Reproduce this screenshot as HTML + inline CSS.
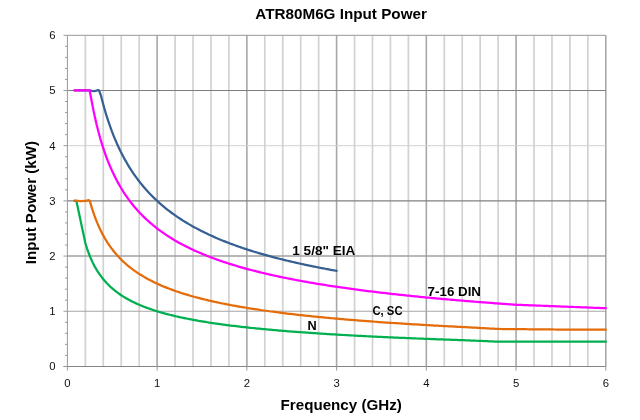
<!DOCTYPE html>
<html><head><meta charset="utf-8"><title>ATR80M6G Input Power</title>
<style>html,body{margin:0;padding:0;background:#fff}svg{display:block}</style>
</head><body>
<svg width="640" height="420" viewBox="0 0 640 420">
<rect width="640" height="420" fill="#ffffff"/>
<path d="M85.35 35.30V366.45M103.29 35.30V366.45M121.24 35.30V366.45M139.19 35.30V366.45M175.08 35.30V366.45M193.03 35.30V366.45M210.97 35.30V366.45M228.92 35.30V366.45M264.81 35.30V366.45M282.76 35.30V366.45M300.71 35.30V366.45M318.65 35.30V366.45M354.55 35.30V366.45M372.49 35.30V366.45M390.44 35.30V366.45M408.39 35.30V366.45M444.28 35.30V366.45M462.23 35.30V366.45M480.17 35.30V366.45M498.12 35.30V366.45M534.01 35.30V366.45M551.96 35.30V366.45M569.91 35.30V366.45M587.85 35.30V366.45" stroke="#d2d2d2" stroke-width="1.7" fill="none"/>
<path d="M157.13 35.30V366.45M246.87 35.30V366.45M336.60 35.30V366.45M426.33 35.30V366.45M516.07 35.30V366.45M605.80 35.30V366.45" stroke="#a8a8a8" stroke-width="1.6" fill="none"/>
<path d="M67.40 311.26H605.80" stroke="#a6a6a6" stroke-width="1.1" fill="none"/>
<path d="M67.40 256.07H605.80" stroke="#a0a0a0" stroke-width="1.4" fill="none"/>
<path d="M67.40 200.88H605.80" stroke="#808080" stroke-width="1.3" fill="none"/>
<path d="M67.40 145.68H605.80" stroke="#d2d2d2" stroke-width="1.0" fill="none"/>
<path d="M67.40 90.49H605.80" stroke="#7e7e7e" stroke-width="1.1" fill="none"/>
<path d="M67.40 35.30H605.80" stroke="#989898" stroke-width="1.0" fill="none"/>
<path d="M63.50 366.45H605.80" stroke="#858585" stroke-width="1.1" fill="none"/>
<path d="M67.40 35.30V366.45M63.50 366.45H67.40M65.00 355.41H67.40M65.00 344.37H67.40M65.00 333.33H67.40M65.00 322.30H67.40M63.50 311.26H67.40M65.00 300.22H67.40M65.00 289.18H67.40M65.00 278.14H67.40M65.00 267.11H67.40M63.50 256.07H67.40M65.00 245.03H67.40M65.00 233.99H67.40M65.00 222.95H67.40M65.00 211.91H67.40M63.50 200.88H67.40M65.00 189.84H67.40M65.00 178.80H67.40M65.00 167.76H67.40M65.00 156.72H67.40M63.50 145.68H67.40M65.00 134.65H67.40M65.00 123.61H67.40M65.00 112.57H67.40M65.00 101.53H67.40M63.50 90.49H67.40M65.00 79.45H67.40M65.00 68.41H67.40M65.00 57.38H67.40M65.00 46.34H67.40M63.50 35.30H67.40M67.40 366.45V370.55M157.13 366.45V370.55M246.87 366.45V370.55M336.60 366.45V370.55M426.33 366.45V370.55M516.07 366.45V370.55M605.80 366.45V370.55" stroke="#9a9a9a" stroke-width="1.0" fill="none"/>
<path d="M74.58 90.49 L89.83 90.49 L92.08 90.93 L94.32 91.15 L96.56 90.60 L98.09 90.05 L99.08 90.49 L100.87 95.34 L102.67 102.33 L104.46 108.81 L106.25 114.83 L108.05 120.44 L109.84 125.70 L111.64 130.64 L113.43 135.28 L115.23 139.66 L117.02 143.80 L118.82 147.72 L120.61 151.44 L122.41 154.97 L124.20 158.34 L126.00 161.55 L127.79 164.62 L129.59 167.55 L131.38 170.36 L133.17 173.06 L134.97 175.64 L136.76 178.13 L138.56 180.52 L140.35 182.82 L142.15 185.04 L143.94 187.17 L145.74 189.24 L147.53 191.24 L149.33 193.17 L151.12 195.03 L152.92 196.84 L154.71 198.59 L156.51 200.29 L158.30 201.94 L160.09 203.54 L161.89 205.10 L163.68 206.61 L165.48 208.08 L167.27 209.51 L169.07 210.90 L170.86 212.25 L172.66 213.57 L174.45 214.86 L176.25 216.11 L178.04 217.34 L179.84 218.53 L181.63 219.70 L183.43 220.84 L185.22 221.95 L187.01 223.04 L188.81 224.10 L190.60 225.14 L192.40 226.16 L194.19 227.16 L195.99 228.13 L197.78 229.09 L199.58 230.03 L201.37 230.94 L203.17 231.84 L204.96 232.72 L206.76 233.59 L208.55 234.43 L210.35 235.26 L212.14 236.08 L213.93 236.88 L215.73 237.67 L217.52 238.44 L219.32 239.20 L221.11 239.94 L222.91 240.67 L224.70 241.39 L226.50 242.10 L228.29 242.80 L230.09 243.48 L231.88 244.15 L233.68 244.82 L235.47 245.47 L237.27 246.11 L239.06 246.74 L240.85 247.36 L242.65 247.97 L244.44 248.57 L246.24 249.17 L248.03 249.75 L249.83 250.32 L251.62 250.89 L253.42 251.45 L255.21 252.00 L257.01 252.54 L258.80 253.08 L260.60 253.61 L262.39 254.13 L264.19 254.64 L265.98 255.15 L267.77 255.65 L269.57 256.14 L271.36 256.63 L273.16 257.11 L274.95 257.58 L276.75 258.05 L278.54 258.51 L280.34 258.97 L282.13 259.42 L283.93 259.86 L285.72 260.30 L287.52 260.73 L289.31 261.16 L291.11 261.58 L292.90 262.00 L294.69 262.42 L296.49 262.82 L298.28 263.23 L300.08 263.63 L301.87 264.02 L303.67 264.41 L305.46 264.80 L307.26 265.18 L309.05 265.55 L310.85 265.93 L312.64 266.29 L314.44 266.66 L316.23 267.02 L318.03 267.38 L319.82 267.73 L321.61 268.08 L323.41 268.42 L325.20 268.77 L327.00 269.10 L328.79 269.44 L330.59 269.77 L332.38 270.10 L334.18 270.42 L335.97 270.74 L336.60 270.86" stroke="#376092" stroke-width="2.25" fill="none" stroke-linejoin="round" stroke-linecap="round"/>
<path d="M74.58 90.49 L89.65 90.49 L91.45 99.92 L93.24 109.34 L95.04 117.83 L96.83 125.53 L98.63 132.55 L100.42 139.00 L102.22 144.94 L104.01 150.44 L105.81 155.54 L107.60 160.30 L109.40 164.76 L111.19 168.93 L112.98 172.86 L114.78 176.56 L116.57 180.06 L118.37 183.37 L120.16 186.51 L121.96 189.50 L123.75 192.34 L125.55 195.04 L127.34 197.63 L129.14 200.10 L130.93 202.47 L132.73 204.74 L134.52 206.91 L136.32 209.00 L138.11 211.01 L139.90 212.95 L141.70 214.82 L143.49 216.61 L145.29 218.35 L147.08 220.03 L148.88 221.65 L150.67 223.22 L152.47 224.74 L154.26 226.21 L156.06 227.64 L157.85 229.02 L159.65 230.36 L161.44 231.67 L163.24 232.94 L165.03 234.17 L166.82 235.37 L168.62 236.54 L170.41 237.67 L172.21 238.78 L174.00 239.86 L175.80 240.91 L177.59 241.94 L179.39 242.94 L181.18 243.92 L182.98 244.87 L184.77 245.80 L186.57 246.72 L188.36 247.61 L190.16 248.48 L191.95 249.33 L193.74 250.17 L195.54 250.99 L197.33 251.79 L199.13 252.57 L200.92 253.34 L202.72 254.09 L204.51 254.83 L206.31 255.55 L208.10 256.26 L209.90 256.96 L211.69 257.64 L213.49 258.31 L215.28 258.97 L217.08 259.61 L218.87 260.25 L220.66 260.87 L222.46 261.49 L224.25 262.09 L226.05 262.68 L227.84 263.26 L229.64 263.83 L231.43 264.40 L233.23 264.95 L235.02 265.50 L236.82 266.03 L238.61 266.56 L240.41 267.08 L242.20 267.59 L244.00 268.09 L245.79 268.59 L247.58 269.08 L249.38 269.56 L251.17 270.03 L252.97 270.50 L254.76 270.96 L256.56 271.42 L258.35 271.86 L260.15 272.31 L261.94 272.74 L263.74 273.17 L265.53 273.59 L267.33 274.01 L269.12 274.42 L270.92 274.83 L272.71 275.23 L274.50 275.63 L276.30 276.02 L278.09 276.40 L279.89 276.79 L281.68 277.16 L283.48 277.53 L285.27 277.90 L287.07 278.26 L288.86 278.62 L290.66 278.97 L292.45 279.32 L294.25 279.67 L296.04 280.01 L297.84 280.35 L299.63 280.68 L301.42 281.01 L303.22 281.34 L305.01 281.66 L306.81 281.98 L308.60 282.29 L310.40 282.60 L312.19 282.91 L313.99 283.22 L315.78 283.52 L317.58 283.81 L319.37 284.11 L321.17 284.40 L322.96 284.69 L324.76 284.98 L326.55 285.26 L328.34 285.54 L330.14 285.81 L331.93 286.09 L333.73 286.36 L335.52 286.63 L337.32 286.89 L339.11 287.16 L340.91 287.42 L342.70 287.68 L344.50 287.93 L346.29 288.18 L348.09 288.43 L349.88 288.68 L351.68 288.93 L353.47 289.17 L355.26 289.41 L357.06 289.65 L358.85 289.89 L360.65 290.12 L362.44 290.36 L364.24 290.59 L366.03 290.82 L367.83 291.04 L369.62 291.27 L371.42 291.49 L373.21 291.71 L375.01 291.93 L376.80 292.14 L378.60 292.36 L380.39 292.57 L382.18 292.78 L383.98 292.99 L385.77 293.20 L387.57 293.40 L389.36 293.61 L391.16 293.81 L392.95 294.01 L394.75 294.21 L396.54 294.41 L398.34 294.60 L400.13 294.80 L401.93 294.99 L403.72 295.18 L405.52 295.37 L407.31 295.56 L409.10 295.74 L410.90 295.93 L412.69 296.11 L414.49 296.29 L416.28 296.47 L418.08 296.65 L419.87 296.83 L421.67 297.01 L423.46 297.18 L425.26 297.36 L427.05 297.53 L428.85 297.70 L430.64 297.87 L432.44 298.04 L434.23 298.21 L436.02 298.37 L437.82 298.54 L439.61 298.70 L441.41 298.87 L443.20 299.03 L445.00 299.19 L446.79 299.35 L448.59 299.50 L450.38 299.66 L452.18 299.82 L453.97 299.97 L455.77 300.13 L457.56 300.28 L459.36 300.43 L461.15 300.58 L462.94 300.73 L464.74 300.88 L466.53 301.03 L468.33 301.17 L470.12 301.32 L471.92 301.46 L473.71 301.61 L475.51 301.75 L477.30 301.89 L479.10 302.03 L480.89 302.17 L482.69 302.31 L484.48 302.45 L486.28 302.59 L488.07 302.72 L489.86 302.86 L491.66 302.99 L493.45 303.13 L495.25 303.26 L497.04 303.39 L498.84 303.52 L500.63 303.65 L502.43 303.78 L504.22 303.91 L506.02 304.04 L507.81 304.17 L509.61 304.29 L511.40 304.42 L513.20 304.55 L514.99 304.67 L516.78 304.77 L518.58 304.84 L520.37 304.91 L522.17 304.98 L523.96 305.05 L525.76 305.12 L527.55 305.19 L529.35 305.26 L531.14 305.33 L532.94 305.40 L534.73 305.47 L536.53 305.54 L538.32 305.61 L540.12 305.68 L541.91 305.75 L543.70 305.82 L545.50 305.89 L547.29 305.96 L549.09 306.03 L550.88 306.09 L552.68 306.16 L554.47 306.23 L556.27 306.30 L558.06 306.37 L559.86 306.44 L561.65 306.51 L563.45 306.58 L565.24 306.65 L567.04 306.72 L568.83 306.79 L570.62 306.86 L572.42 306.93 L574.21 307.00 L576.01 307.07 L577.80 307.14 L579.60 307.21 L581.39 307.28 L583.19 307.35 L584.98 307.42 L586.78 307.49 L588.57 307.56 L590.37 307.62 L592.16 307.69 L593.96 307.76 L595.75 307.83 L597.54 307.90 L599.34 307.97 L601.13 308.04 L602.93 308.11 L604.72 308.18 L605.80 308.22" stroke="#ff00ff" stroke-width="2.25" fill="none" stroke-linejoin="round" stroke-linecap="round"/>
<path d="M74.58 200.88 L76.37 200.88 L78.17 209.31 L79.96 217.74 L81.76 226.17 L83.55 234.61 L85.35 243.04 L87.14 248.78 L88.94 253.79 L90.73 258.21 L92.53 262.15 L94.32 265.68 L96.11 268.88 L97.91 271.80 L99.70 274.46 L101.50 276.92 L103.29 279.18 L105.09 281.29 L106.88 283.25 L108.68 285.07 L110.47 286.79 L112.27 288.40 L114.06 289.91 L115.86 291.34 L117.65 292.70 L119.45 293.98 L121.24 295.20 L123.03 296.36 L124.83 297.46 L126.62 298.51 L128.42 299.52 L130.21 300.48 L132.01 301.41 L133.80 302.29 L135.60 303.14 L137.39 303.96 L139.19 304.74 L140.98 305.50 L142.78 306.23 L144.57 306.94 L146.37 307.62 L148.16 308.27 L149.95 308.91 L151.75 309.52 L153.54 310.12 L155.34 310.70 L157.13 311.26 L158.93 311.80 L160.72 312.33 L162.52 312.84 L164.31 313.34 L166.11 313.83 L167.90 314.30 L169.70 314.76 L171.49 315.21 L173.29 315.64 L175.08 316.07 L176.87 316.48 L178.67 316.89 L180.46 317.28 L182.26 317.67 L184.05 318.04 L185.85 318.41 L187.64 318.77 L189.44 319.12 L191.23 319.47 L193.03 319.80 L194.82 320.13 L196.62 320.46 L198.41 320.77 L200.21 321.08 L202.00 321.39 L203.79 321.68 L205.59 321.98 L207.38 322.26 L209.18 322.54 L210.97 322.82 L212.77 323.09 L214.56 323.35 L216.36 323.61 L218.15 323.87 L219.95 324.12 L221.74 324.37 L223.54 324.61 L225.33 324.85 L227.13 325.08 L228.92 325.31 L230.71 325.54 L232.51 325.76 L234.30 325.98 L236.10 326.20 L237.89 326.41 L239.69 326.62 L241.48 326.82 L243.28 327.03 L245.07 327.23 L246.87 327.42 L248.66 327.62 L250.46 327.81 L252.25 328.00 L254.05 328.18 L255.84 328.36 L257.63 328.54 L259.43 328.72 L261.22 328.90 L263.02 329.07 L264.81 329.24 L266.61 329.41 L268.40 329.57 L270.20 329.74 L271.99 329.90 L273.79 330.06 L275.58 330.21 L277.38 330.37 L279.17 330.52 L280.97 330.67 L282.76 330.82 L284.55 330.97 L286.35 331.12 L288.14 331.26 L289.94 331.40 L291.73 331.54 L293.53 331.68 L295.32 331.82 L297.12 331.96 L298.91 332.09 L300.71 332.22 L302.50 332.35 L304.30 332.48 L306.09 332.61 L307.89 332.74 L309.68 332.86 L311.47 332.99 L313.27 333.11 L315.06 333.23 L316.86 333.35 L318.65 333.47 L320.45 333.58 L322.24 333.70 L324.04 333.81 L325.83 333.93 L327.63 334.04 L329.42 334.15 L331.22 334.26 L333.01 334.37 L334.81 334.48 L336.60 334.59 L338.39 334.69 L340.19 334.80 L341.98 334.90 L343.78 335.00 L345.57 335.10 L347.37 335.20 L349.16 335.30 L350.96 335.40 L352.75 335.50 L354.55 335.60 L356.34 335.69 L358.14 335.79 L359.93 335.88 L361.73 335.98 L363.52 336.07 L365.31 336.16 L367.11 336.25 L368.90 336.34 L370.70 336.43 L372.49 336.52 L374.29 336.61 L376.08 336.69 L377.88 336.78 L379.67 336.86 L381.47 336.95 L383.26 337.03 L385.06 337.12 L386.85 337.20 L388.65 337.28 L390.44 337.36 L392.23 337.44 L394.03 337.52 L395.82 337.60 L397.62 337.68 L399.41 337.76 L401.21 337.83 L403.00 337.91 L404.80 337.99 L406.59 338.06 L408.39 338.14 L410.18 338.21 L411.98 338.29 L413.77 338.36 L415.57 338.43 L417.36 338.50 L419.15 338.57 L420.95 338.64 L422.74 338.72 L424.54 338.78 L426.33 338.85 L428.13 338.92 L429.92 338.99 L431.72 339.06 L433.51 339.13 L435.31 339.19 L437.10 339.26 L438.90 339.32 L440.69 339.39 L442.49 339.45 L444.28 339.52 L446.07 339.58 L447.87 339.65 L449.66 339.71 L451.46 339.77 L453.25 339.83 L455.05 339.90 L456.84 339.96 L458.64 340.02 L460.43 340.08 L462.23 340.14 L464.02 340.21 L465.82 340.29 L467.61 340.37 L469.41 340.44 L471.20 340.52 L472.99 340.60 L474.79 340.67 L476.58 340.75 L478.38 340.83 L480.17 340.90 L481.97 340.98 L483.76 341.06 L485.56 341.13 L487.35 341.21 L489.15 341.29 L490.94 341.36 L492.74 341.44 L494.53 341.52 L496.33 341.59 L498.12 341.67 L499.91 341.67 L501.71 341.67 L503.50 341.67 L505.30 341.67 L507.09 341.67 L508.89 341.67 L510.68 341.67 L512.48 341.67 L514.27 341.67 L516.07 341.67 L517.86 341.67 L519.66 341.67 L521.45 341.67 L523.25 341.67 L525.04 341.67 L526.83 341.67 L528.63 341.67 L530.42 341.67 L532.22 341.67 L534.01 341.67 L535.81 341.67 L537.60 341.67 L539.40 341.67 L541.19 341.67 L542.99 341.67 L544.78 341.67 L546.58 341.67 L548.37 341.67 L550.17 341.67 L551.96 341.67 L553.75 341.67 L555.55 341.67 L557.34 341.67 L559.14 341.67 L560.93 341.67 L562.73 341.67 L564.52 341.67 L566.32 341.67 L568.11 341.67 L569.91 341.67 L571.70 341.67 L573.50 341.67 L575.29 341.67 L577.09 341.67 L578.88 341.67 L580.67 341.67 L582.47 341.67 L584.26 341.67 L586.06 341.67 L587.85 341.67 L589.65 341.67 L591.44 341.67 L593.24 341.67 L595.03 341.67 L596.83 341.67 L598.62 341.67 L600.42 341.67 L602.21 341.67 L604.01 341.67 L605.80 341.67 L605.80 341.67" stroke="#00b050" stroke-width="2.25" fill="none" stroke-linejoin="round" stroke-linecap="round"/>
<path d="M74.58 200.71 L80.86 201.04 L85.35 200.99 L88.67 200.16 L89.83 200.88 L91.63 207.13 L93.42 212.72 L95.22 217.76 L97.01 222.34 L98.81 226.51 L100.60 230.35 L102.40 233.88 L104.19 237.16 L105.99 240.20 L107.78 243.04 L109.57 245.69 L111.37 248.18 L113.16 250.52 L114.96 252.73 L116.75 254.82 L118.55 256.80 L120.34 258.67 L122.14 260.45 L123.93 262.15 L125.73 263.76 L127.52 265.31 L129.32 266.79 L131.11 268.20 L132.91 269.55 L134.70 270.86 L136.49 272.10 L138.29 273.31 L140.08 274.46 L141.88 275.58 L143.67 276.65 L145.47 277.69 L147.26 278.70 L149.06 279.67 L150.85 280.60 L152.65 281.51 L154.44 282.39 L156.24 283.25 L158.03 284.07 L159.83 284.88 L161.62 285.66 L163.41 286.42 L165.21 287.15 L167.00 287.87 L168.80 288.57 L170.59 289.25 L172.39 289.91 L174.18 290.56 L175.98 291.19 L177.77 291.80 L179.57 292.40 L181.36 292.99 L183.16 293.56 L184.95 294.12 L186.75 294.66 L188.54 295.20 L190.33 295.72 L192.13 296.23 L193.92 296.73 L195.72 297.22 L197.51 297.70 L199.31 298.17 L201.10 298.63 L202.90 299.08 L204.69 299.52 L206.49 299.95 L208.28 300.38 L210.08 300.80 L211.87 301.20 L213.67 301.61 L215.46 302.00 L217.25 302.39 L219.05 302.77 L220.84 303.14 L222.64 303.51 L224.43 303.87 L226.23 304.22 L228.02 304.57 L229.82 304.91 L231.61 305.25 L233.41 305.58 L235.20 305.91 L237.00 306.23 L238.79 306.55 L240.59 306.86 L242.38 307.16 L244.17 307.47 L245.97 307.76 L247.76 308.06 L249.56 308.34 L251.35 308.63 L253.15 308.91 L254.94 309.18 L256.74 309.46 L258.53 309.72 L260.33 309.99 L262.12 310.25 L263.92 310.51 L265.71 310.76 L267.51 311.01 L269.30 311.26 L271.09 311.50 L272.89 311.74 L274.68 311.98 L276.48 312.21 L278.27 312.45 L280.07 312.67 L281.86 312.90 L283.66 313.12 L285.45 313.34 L287.25 313.56 L289.04 313.77 L290.84 313.99 L292.63 314.19 L294.43 314.40 L296.22 314.61 L298.01 314.81 L299.81 315.01 L301.60 315.21 L303.40 315.40 L305.19 315.59 L306.99 315.78 L308.78 315.97 L310.58 316.16 L312.37 316.34 L314.17 316.53 L315.96 316.71 L317.76 316.89 L319.55 317.06 L321.35 317.24 L323.14 317.41 L324.93 317.58 L326.73 317.75 L328.52 317.92 L330.32 318.09 L332.11 318.25 L333.91 318.41 L335.70 318.57 L337.50 318.73 L339.29 318.89 L341.09 319.05 L342.88 319.20 L344.68 319.35 L346.47 319.51 L348.27 319.66 L350.06 319.80 L351.85 319.95 L353.65 320.10 L355.44 320.24 L357.24 320.39 L359.03 320.53 L360.83 320.67 L362.62 320.81 L364.42 320.95 L366.21 321.08 L368.01 321.22 L369.80 321.35 L371.60 321.49 L373.39 321.62 L375.19 321.75 L376.98 321.88 L378.77 322.01 L380.57 322.13 L382.36 322.26 L384.16 322.39 L385.95 322.51 L387.75 322.63 L389.54 322.76 L391.34 322.88 L393.13 323.00 L394.93 323.12 L396.72 323.24 L398.52 323.35 L400.31 323.47 L402.11 323.58 L403.90 323.70 L405.69 323.81 L407.49 323.92 L409.28 324.04 L411.08 324.15 L412.87 324.26 L414.67 324.37 L416.46 324.48 L418.26 324.58 L420.05 324.69 L421.85 324.80 L423.64 324.90 L425.44 325.00 L427.23 325.11 L429.03 325.21 L430.82 325.31 L432.61 325.41 L434.41 325.51 L436.20 325.61 L438.00 325.71 L439.79 325.81 L441.59 325.91 L443.38 326.01 L445.18 326.10 L446.97 326.20 L448.77 326.29 L450.56 326.39 L452.36 326.48 L454.15 326.57 L455.95 326.66 L457.74 326.76 L459.53 326.85 L461.33 326.94 L463.12 327.03 L464.92 327.13 L466.71 327.23 L468.51 327.33 L470.30 327.43 L472.10 327.53 L473.89 327.63 L475.69 327.73 L477.48 327.83 L479.28 327.93 L481.07 328.03 L482.87 328.13 L484.66 328.23 L486.45 328.33 L488.25 328.43 L490.04 328.53 L491.84 328.63 L493.63 328.73 L495.43 328.83 L497.22 328.93 L499.02 328.98 L500.81 329.00 L502.61 329.02 L504.40 329.03 L506.20 329.05 L507.99 329.07 L509.79 329.08 L511.58 329.10 L513.37 329.12 L515.17 329.13 L516.96 329.15 L518.76 329.17 L520.55 329.18 L522.35 329.20 L524.14 329.21 L525.94 329.23 L527.73 329.25 L529.53 329.26 L531.32 329.28 L533.12 329.30 L534.91 329.31 L536.71 329.33 L538.50 329.35 L540.29 329.36 L542.09 329.38 L543.88 329.40 L545.68 329.41 L547.47 329.43 L549.27 329.45 L551.06 329.46 L552.86 329.48 L554.65 329.50 L556.45 329.51 L558.24 329.53 L560.04 329.55 L561.83 329.56 L563.63 329.58 L565.42 329.60 L567.21 329.61 L569.01 329.63 L570.80 329.64 L572.60 329.64 L574.39 329.64 L576.19 329.64 L577.98 329.64 L579.78 329.64 L581.57 329.64 L583.37 329.64 L585.16 329.64 L586.96 329.64 L588.75 329.64 L590.55 329.64 L592.34 329.64 L594.13 329.64 L595.93 329.64 L597.72 329.64 L599.52 329.64 L601.31 329.64 L603.11 329.64 L604.90 329.64 L605.80 329.64" stroke="#e46c0a" stroke-width="2.25" fill="none" stroke-linejoin="round" stroke-linecap="round"/>
<text x="255.3" y="18.6" textLength="171.6" lengthAdjust="spacingAndGlyphs" font-family="'Liberation Sans', sans-serif" font-weight="bold" font-size="14.4" fill="#000">ATR80M6G Input Power</text>
<text x="280.6" y="409.6" textLength="121.2" lengthAdjust="spacingAndGlyphs" font-family="'Liberation Sans', sans-serif" font-weight="bold" font-size="14.1" fill="#000">Frequency (GHz)</text>
<text transform="translate(36.2 264.2) rotate(-90)" textLength="123.2" lengthAdjust="spacingAndGlyphs" font-family="'Liberation Sans', sans-serif" font-weight="bold" font-size="15" fill="#000">Input Power (kW)</text>
<text x="67.40" y="387.2" text-anchor="middle" font-family="'Liberation Sans', sans-serif" font-size="11.3" fill="#111">0</text>
<text x="157.13" y="387.2" text-anchor="middle" font-family="'Liberation Sans', sans-serif" font-size="11.3" fill="#111">1</text>
<text x="246.87" y="387.2" text-anchor="middle" font-family="'Liberation Sans', sans-serif" font-size="11.3" fill="#111">2</text>
<text x="336.60" y="387.2" text-anchor="middle" font-family="'Liberation Sans', sans-serif" font-size="11.3" fill="#111">3</text>
<text x="426.33" y="387.2" text-anchor="middle" font-family="'Liberation Sans', sans-serif" font-size="11.3" fill="#111">4</text>
<text x="516.07" y="387.2" text-anchor="middle" font-family="'Liberation Sans', sans-serif" font-size="11.3" fill="#111">5</text>
<text x="605.80" y="387.2" text-anchor="middle" font-family="'Liberation Sans', sans-serif" font-size="11.3" fill="#111">6</text>
<text x="52.5" y="370.45" text-anchor="middle" font-family="'Liberation Sans', sans-serif" font-size="11.3" fill="#111">0</text>
<text x="52.5" y="315.26" text-anchor="middle" font-family="'Liberation Sans', sans-serif" font-size="11.3" fill="#111">1</text>
<text x="52.5" y="260.07" text-anchor="middle" font-family="'Liberation Sans', sans-serif" font-size="11.3" fill="#111">2</text>
<text x="52.5" y="204.88" text-anchor="middle" font-family="'Liberation Sans', sans-serif" font-size="11.3" fill="#111">3</text>
<text x="52.5" y="149.68" text-anchor="middle" font-family="'Liberation Sans', sans-serif" font-size="11.3" fill="#111">4</text>
<text x="52.5" y="94.49" text-anchor="middle" font-family="'Liberation Sans', sans-serif" font-size="11.3" fill="#111">5</text>
<text x="52.5" y="39.30" text-anchor="middle" font-family="'Liberation Sans', sans-serif" font-size="11.3" fill="#111">6</text>
<text x="292.30" y="255.00" textLength="63.0" lengthAdjust="spacingAndGlyphs" font-family="'Liberation Sans', sans-serif" font-weight="bold" font-size="12.4" fill="#000">1 5/8&quot; EIA</text>
<text x="427.60" y="295.60" textLength="53.4" lengthAdjust="spacingAndGlyphs" font-family="'Liberation Sans', sans-serif" font-weight="bold" font-size="12.4" fill="#000">7-16 DIN</text>
<text x="372.50" y="315.00" textLength="30.0" lengthAdjust="spacingAndGlyphs" font-family="'Liberation Sans', sans-serif" font-weight="bold" font-size="12.4" fill="#000">C, SC</text>
<text x="307.50" y="329.50" textLength="9.2" lengthAdjust="spacingAndGlyphs" font-family="'Liberation Sans', sans-serif" font-weight="bold" font-size="12.4" fill="#000">N</text>
</svg>
</body></html>
